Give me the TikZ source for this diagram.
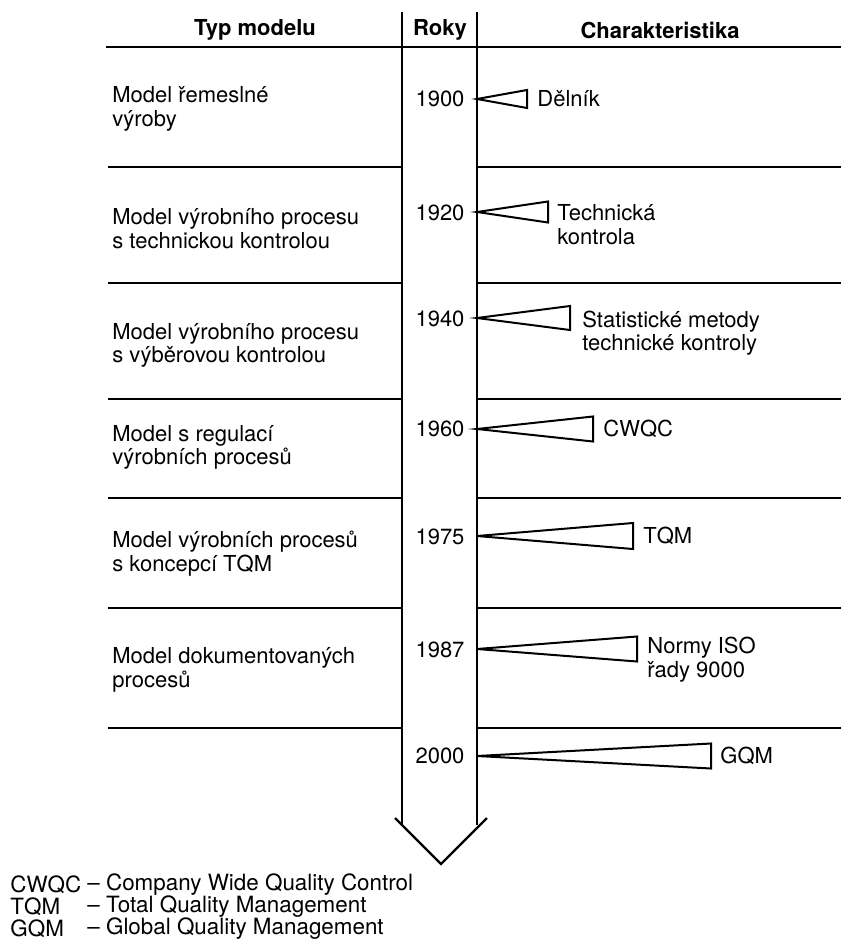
\documentclass[tikz,border=0pt]{standalone}
\usepackage{fontspec}
\setmainfont{TeX Gyre Heros}
\usepackage{tikz}
\newcommand{\chartfont}{\fontsize{11}{11.7}\selectfont}
\newcommand{\legendfont}{\fontsize{11.2}{11.2}\selectfont}
\tikzset{
  headtext/.style={font=\chartfont\bfseries,inner sep=0pt},
  modeltext/.style={anchor=west,align=left,inner sep=0pt},
  yeartext/.style={inner sep=0pt},
  chartext/.style={anchor=west,align=left,inner sep=0pt},
  legendtext/.style={anchor=west,inner sep=0pt,font=\legendfont},
  gridline/.style={draw=black,line width=1pt},
  headline/.style={draw=black,line width=1.3pt},
  shaftline/.style={draw=black,line width=1.1pt,line join=miter},
  wedgeshape/.style={draw=black,line width=1pt,line join=miter}
}

\begin{document}
\begin{tikzpicture}[x=0.5pt,y=-0.5pt,font=\chartfont]
  \useasboundingbox (0,0) rectangle (841,941);
  % column headers
  \node[headtext] (hmodel) at (255,30) {Typ modelu};
  \node[headtext] (hyear) at (440,30) {Roky};
  \node[headtext] (hchar) at (660,30) {Charakteristika};
  \draw[headline] (106,47) -- (841,47);
  % time arrow
  \coordinate (shaftL) at (402,12);
  \coordinate (shaftR) at (477,12);
  \coordinate (wingL) at (395,818);
  \coordinate (wingR) at (487,818);
  \coordinate (tip) at (441,864);
  \draw[shaftline] (shaftL) -- (402,825);
  \draw[shaftline] (shaftR) -- (477,825);
  \draw[shaftline] (wingL) -- (tip) -- (wingR);
  % row separators
  \foreach \y in {167,283,399,498,608,728} {
    \draw[gridline] (108,\y) -- (402,\y);
    \draw[gridline] (477,\y) -- (841,\y);
  }
  % model types
  \node[modeltext] (m1) at (112,109) {Model řemeslné\\výroby};
  \node[modeltext] (m2) at (112,228.5) {Model výrobního procesu\\s technickou kontrolou};
  \node[modeltext] (m3) at (112,345.5) {Model výrobního procesu\\s výběrovou kontrolou};
  \node[modeltext] (m4) at (112,447.5) {Model s regulací\\výrobních procesů};
  \node[modeltext] (m5) at (112,553.5) {Model výrobních procesů\\s koncepcí TQM};
  \node[modeltext] (m6) at (112,670) {Model dokumentovaných\\procesů};
  % years
  \node[yeartext] (y1900) at (440,99) {1900};
  \node[yeartext] (y1920) at (440,213) {1920};
  \node[yeartext] (y1940) at (440,319) {1940};
  \node[yeartext] (y1960) at (440,429) {1960};
  \node[yeartext] (y1975) at (440,537) {1975};
  \node[yeartext] (y1987) at (440,650) {1987};
  \node[yeartext] (y2000) at (440,756) {2000};
  % wedges: tip y / base x / half height
  \foreach \ty/\bx/\hh in {99/527/9,212/548/10.5,318/570/12,429/593/12.5,536/633/13,649/637/12.5,756/711/12.5}
    \draw[wedgeshape] (477,\ty) -- (\bx,\ty-\hh) -- (\bx,\ty+\hh) -- cycle;
  % characteristics
  \node[chartext] (c1900) at (537,99) {Dělník};
  \node[chartext] (c1920) at (557,224.5) {Technická\\kontrola};
  \node[chartext] (c1940) at (582,333) {Statistické metody\\technické kontroly};
  \node[chartext] (c1960) at (603,429) {CWQC};
  \node[chartext] (c1975) at (643,536) {TQM};
  \node[chartext] (c1987) at (647,659.5) {Normy ISO\\řady 9000};
  \node[chartext] (c2000) at (720,756) {GQM};
  % legend
  \node[legendtext] (acwqc) at (10,885) {CWQC};
  \node[legendtext] (dcwqc) at (87,885) {-- Company Wide Quality Control};
  \node[legendtext] (atqm) at (10,907) {TQM};
  \node[legendtext] (dtqm) at (87,907) {-- Total Quality Management};
  \node[legendtext] (agqm) at (10,929) {GQM};
  \node[legendtext] (dgqm) at (87,929) {-- Global Quality Management};
\end{tikzpicture}
\end{document}
